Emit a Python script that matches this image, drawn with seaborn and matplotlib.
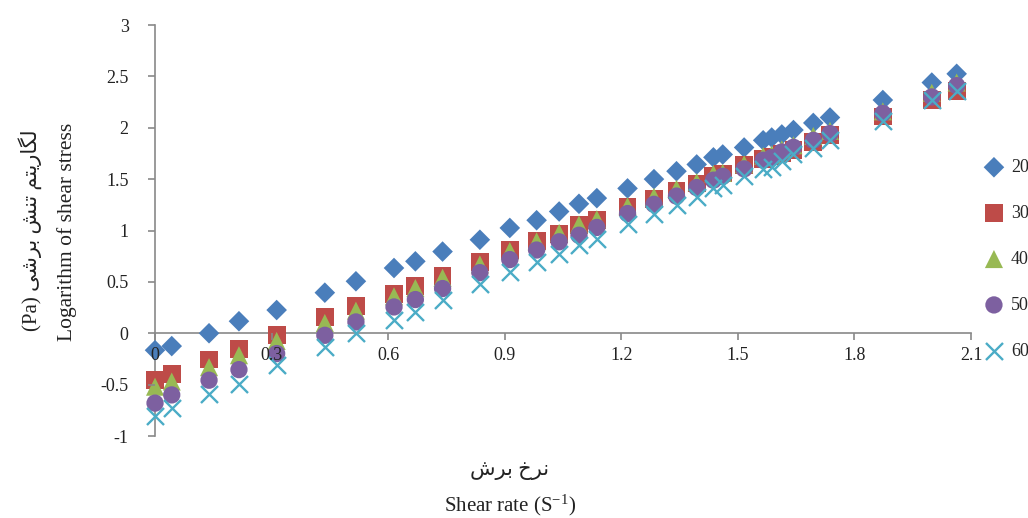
import seaborn as sns
import matplotlib.pyplot as plt
import matplotlib as mpl

# log shear rate (x) and log shear stress for each temperature
shear_rate = [0, 0.043, 0.139, 0.216, 0.313, 0.437, 0.517, 0.615, 0.670, 0.740, 0.836,
              0.913, 0.982, 1.040, 1.091, 1.137, 1.216, 1.284, 1.342, 1.394, 1.437, 1.461,
              1.516, 1.565, 1.587, 1.613, 1.643, 1.694, 1.737, 1.873, 1.999, 2.063]
stress_20 = [-0.165, -0.125, 0.00, 0.117, 0.226, 0.395, 0.506, 0.635, 0.70, 0.795, 0.91,
             1.025, 1.10, 1.185, 1.26, 1.315, 1.41, 1.50, 1.577, 1.643, 1.712, 1.74,
             1.808, 1.878, 1.905, 1.935, 1.978, 2.047, 2.10, 2.27, 2.44, 2.525]
stress_30 = [-0.457, -0.40, -0.256, -0.156, -0.02, 0.16, 0.263, 0.386, 0.457, 0.555, 0.694,
             0.81, 0.90, 0.97, 1.05, 1.10, 1.23, 1.31, 1.39, 1.457, 1.528, 1.555,
             1.635, 1.70, 1.72, 1.75, 1.78, 1.86, 1.927, 2.11, 2.27, 2.36]
stress_40 = [-0.52, -0.47, -0.33, -0.214, -0.075, 0.10, 0.22, 0.36, 0.44, 0.54, 0.67,
             0.80, 0.895, 0.976, 1.058, 1.11, 1.236, 1.327, 1.405, 1.47, 1.55, 1.56,
             1.645, 1.725, 1.74, 1.79, 1.83, 1.92, 1.97, 2.16, 2.34, 2.44]
stress_50 = [-0.68, -0.60, -0.457, -0.354, -0.198, -0.02, 0.11, 0.256, 0.328, 0.435, 0.59,
             0.717, 0.81, 0.89, 0.954, 1.03, 1.165, 1.255, 1.335, 1.418, 1.49, 1.528,
             1.60, 1.684, 1.71, 1.765, 1.81, 1.878, 1.944, 2.14, 2.30, 2.41]
stress_60 = [-0.81, -0.73, -0.587, -0.49, -0.31, -0.137, 0.0, 0.127, 0.207, 0.32, 0.48,
             0.60, 0.694, 0.776, 0.856, 0.92, 1.06, 1.165, 1.246, 1.327, 1.418, 1.44,
             1.528, 1.60, 1.62, 1.677, 1.74, 1.80, 1.885, 2.07, 2.27, 2.36]
temps = ["20", "30", "40", "50", "60"]
x_ticks = [0, 0.3, 0.6, 0.9, 1.2, 1.5, 1.8, 2.1]
y_ticks = [-1, -0.5, 0, 0.5, 1, 1.5, 2, 2.5, 3]

sns.set_style("white")
plt.rcParams["font.family"] = ["Liberation Serif", "DejaVu Sans"]
plt.rcParams["axes.unicode_minus"] = False
plt.rcParams["mathtext.fontset"] = "custom"
plt.rcParams["mathtext.rm"] = "Liberation Serif"
plt.rcParams["mathtext.it"] = "Liberation Serif"

fig = plt.figure(figsize=(10.28, 5.18), dpi=100)
ax = fig.add_axes([0.1508, 0.1583, 0.7938, 0.7934])

series = [stress_20, stress_30, stress_40, stress_50, stress_60]
colors = ["#4A7EBB", "#BE4B48", "#98B954", "#7D60A0", "#4BACC6"]
markers = ["D", "s", "^", "o", "x"]
sizes = [110, 165, 170, 155, 150]
for t, ys, c, m, s in zip(temps, series, colors, markers, sizes):
    if m == "x":
        sns.scatterplot(x=shear_rate, y=ys, ax=ax, marker=m, color=c, s=s,
                        linewidth=1.7, label=t, zorder=2, clip_on=False)
    else:
        sns.scatterplot(x=shear_rate, y=ys, ax=ax, marker=m, color=c, s=s,
                        edgecolor="none", label=t, zorder=2, clip_on=False)

gray = "#898989"
ax.set_axisbelow(False)
ax.set_xlim(0, 2.1)
ax.set_ylim(-1, 3)
ax.set_xticks(x_ticks)
ax.set_xticklabels(["0" if v == 0 else f"{v:g}" for v in x_ticks])
ax.set_yticks(y_ticks)
ax.set_yticklabels([f"{v:g}" for v in y_ticks])
for side in ["top", "right"]:
    ax.spines[side].set_visible(False)
ax.spines["bottom"].set_position(("data", 0))
for side in ["left", "bottom"]:
    ax.spines[side].set_color(gray)
    ax.spines[side].set_linewidth(1.2)
    ax.spines[side].set_zorder(1)
ax.tick_params(axis="y", left=True, length=5, width=1.2, color=gray, pad=14,
               labelsize=13, labelcolor="#222222")
ax.tick_params(axis="x", bottom=True, length=5, width=1.2, color=gray, pad=5,
               labelsize=13, labelcolor="#222222")

ax.legend(loc="center left", bbox_to_anchor=(1.017, 0.43), frameon=False,
          handlelength=1, handletextpad=0.45, labelspacing=1.6, fontsize=13,
          borderaxespad=0, borderpad=0)

# Persian labels written in shaped, visual order
fa_y = "(Pa) \ufbfd\ufeb7\ufeae\ufe91 \ufeb6\ufee8\ufe97 \ufee2\ufe98\ufbfe\ufead\ufe8e\ufb95\ufedf"
fa_x = "\ufeb5\ufeae\ufe91 \ufea5\ufeae\ufee7"
fig.text(30 / 1028, 1 - 230 / 518, fa_y, rotation=90, ha="center", va="center",
         fontsize=15, color="#222222")
fig.text(67 / 1028, 1 - 232 / 518, "Logarithm of shear stress", rotation=90,
         ha="center", va="center", fontsize=15.5, color="#222222")
fig.text(510 / 1028, 1 - 470 / 518, fa_x, ha="center", va="center",
         fontsize=15, color="#222222")
fig.text(510 / 1028, 1 - 505 / 518, r"Shear rate (S$^{-1}$)", ha="center",
         va="center", fontsize=15, color="#222222")

fig.savefig("out.png", dpi=100)
